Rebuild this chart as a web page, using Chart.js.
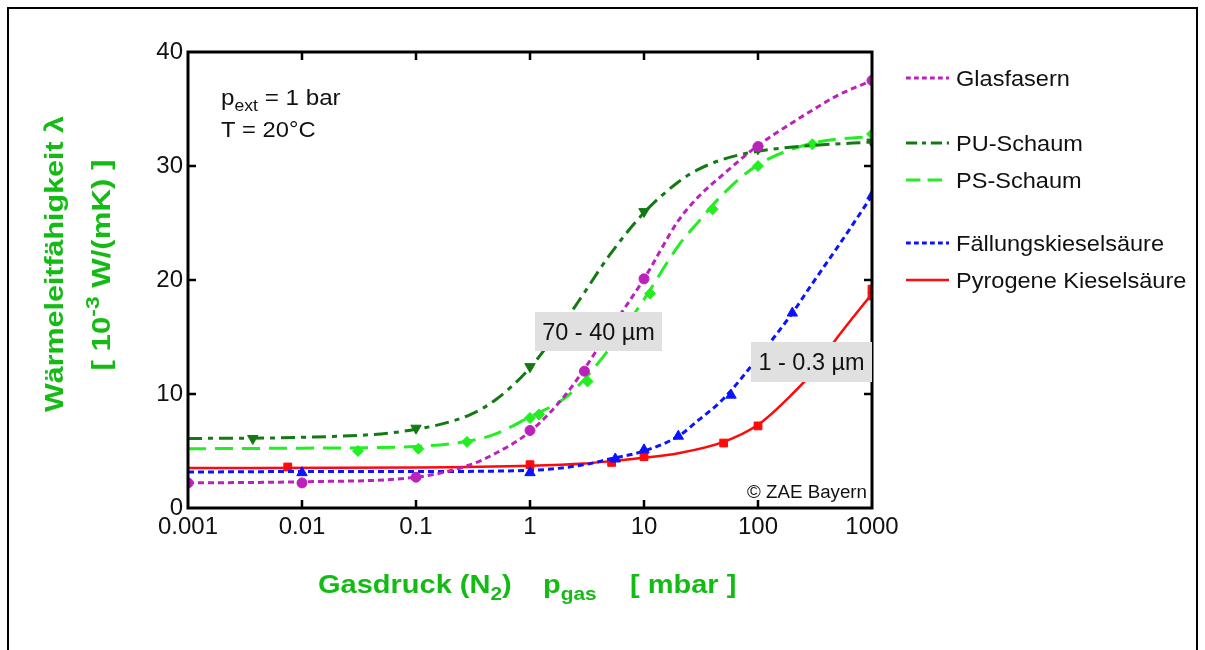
<!DOCTYPE html>
<html>
<head>
<meta charset="utf-8">
<script src="https://cdn.jsdelivr.net/npm/chart.js@4.4.1/dist/chart.umd.min.js"></script>
<style>
  html, body { margin: 0; padding: 0; background: #fff; }
  #wrap { position: relative; width: 1205px; height: 650px; overflow: hidden; }
  #frame { position: absolute; left: 7px; top: 7px; width: 1191px; height: 700px; border: 2px solid #000; box-sizing: border-box; }
  canvas { position: absolute; left: 0; top: 0; }
</style>
</head>
<body>
<div id="wrap">
  <div id="frame"></div>
  <canvas id="chart" width="1205" height="650"></canvas>
</div>
<script>
// axis ticks
const xTicks = [0.001, 0.01, 0.1, 1, 10, 100, 1000];
const xTickLabels = ['0.001', '0.01', '0.1', '1', '10', '100', '1000'];
const yTicks = [0, 10, 20, 30, 40];

// Glasfasern
const glasCurveP = [0.001, 0.01, 0.1, 0.3, 0.5, 1, 2, 3, 5, 10, 20, 30, 50, 100, 200, 300, 500, 1000];
const glasCurveL = [2.2, 2.3, 2.7, 3.8, 4.8, 6.7, 9.8, 12.2, 15.6, 20.1, 25.2, 27.3, 29.3, 31.8, 33.8, 34.9, 36.2, 37.5];
const glasMarkP = [0.001, 0.01, 0.1, 1, 3, 10, 100, 1000];
const glasMarkL = [2.2, 2.2, 2.7, 6.8, 12.0, 20.1, 31.7, 37.5];

// PU-Schaum
const puCurveP = [0.001, 0.01, 0.1, 0.3, 0.5, 1, 2, 3, 5, 10, 20, 30, 50, 100, 300, 1000];
const puCurveL = [6.1, 6.2, 6.9, 8.2, 9.5, 12.3, 16.3, 18.9, 22.2, 25.9, 28.6, 29.7, 30.6, 31.3, 31.8, 32.1];
const puMarkP = [0.0037, 0.1, 1, 10, 100, 1000];
const puMarkL = [6.1, 7.0, 12.4, 26.0, 31.5, 32.1];

// PS-Schaum
const psCurveP = [0.001, 0.01, 0.1, 0.3, 0.5, 1, 2, 3, 5, 10, 20, 30, 50, 100, 300, 1000];
const psCurveL = [5.2, 5.25, 5.4, 5.9, 6.5, 8.0, 9.6, 11.3, 14.0, 18.3, 23.0, 25.1, 27.6, 30.1, 32.0, 32.6];
const psMarkP = [0.031, 0.105, 0.28, 1, 1.2, 3.2, 11.3, 40, 100, 300, 1000];
const psMarkL = [5.0, 5.2, 5.8, 7.9, 8.2, 11.1, 18.8, 26.2, 30.0, 31.9, 32.8];

// Fällungskieselsäure
const faellCurveP = [0.001, 0.01, 0.1, 1, 3, 5, 10, 20, 30, 50, 100, 200, 300, 500, 1000];
const faellCurveL = [3.15, 3.2, 3.2, 3.3, 3.8, 4.3, 5.0, 6.3, 7.7, 9.6, 13.2, 17.1, 19.7, 22.9, 27.4];
const faellMarkP = [0.01, 1, 5.6, 10, 20, 58, 200, 1000];
const faellMarkL = [3.1, 3.1, 4.3, 5.1, 6.3, 9.9, 17.1, 27.4];

// Pyrogene Kieselsäure
const pyroCurveP = [0.001, 0.1, 1, 3, 5, 10, 20, 50, 100, 200, 300, 500, 1000];
const pyroCurveL = [3.5, 3.55, 3.7, 3.9, 4.1, 4.4, 4.8, 5.8, 7.3, 10.0, 11.9, 15.0, 18.8];
const pyroMarkP = [0.0075, 1, 5.2, 10, 50, 100, 1000, 1000];
const pyroMarkL = [3.6, 3.8, 4.0, 4.5, 5.7, 7.2, 18.6, 19.2];

const FONT = '"Liberation Sans", Arial, Helvetica, sans-serif';
const TITLE_GREEN = '#14bb14';

const series = [
  { label: 'Glasfasern', color: '#bb22bb', dash: [6, 4], width: 3, point: 'circle', rot: 0, r: 5,
    cp: glasCurveP, cl: glasCurveL, mp: glasMarkP, ml: glasMarkL, legendY: 78 },
  { label: 'PU-Schaum', color: '#137a13', dash: [14, 6, 5, 6], width: 3, point: 'triangle', rot: 180, r: 6,
    cp: puCurveP, cl: puCurveL, mp: puMarkP, ml: puMarkL, legendY: 143 },
  { label: 'PS-Schaum', color: '#22ee22', dash: [18, 9], width: 3, point: 'rectRot', rot: 0, r: 5.5,
    cp: psCurveP, cl: psCurveL, mp: psMarkP, ml: psMarkL, legendY: 180 },
  { label: 'Fällungskieselsäure', color: '#0a14ff', dash: [6, 4], width: 3, point: 'triangle', rot: 0, r: 6,
    cp: faellCurveP, cl: faellCurveL, mp: faellMarkP, ml: faellMarkL, legendY: 243 },
  { label: 'Pyrogene Kieselsäure', color: '#ff0a0a', dash: [], width: 2.5, point: 'rect', rot: 0, r: 5.5,
    cp: pyroCurveP, cl: pyroCurveL, mp: pyroMarkP, ml: pyroMarkL, legendY: 280 }
];

const toXY = (xs, ys) => xs.map((x, i) => ({ x: x, y: ys[i] }));

const datasets = [];
series.forEach(s => {
  datasets.push({
    label: s.label,
    data: toXY(s.cp, s.cl),
    borderColor: s.color,
    borderWidth: s.width,
    borderDash: s.dash,
    cubicInterpolationMode: 'monotone',
    pointRadius: 0,
    fill: false
  });
  datasets.push({
    label: s.label + ' Messwerte',
    data: toXY(s.mp, s.ml),
    showLine: false,
    pointStyle: s.point,
    pointRotation: s.rot,
    pointRadius: s.r,
    pointBackgroundColor: s.color,
    pointBorderColor: s.color,
    pointBorderWidth: 1
  });
});

// text with sub/superscript parts: [text, 0 normal | 1 sub | 2 sup]
function drawRich(ctx, parts, x, y, size, weight, color, align, hscale) {
  hscale = hscale || 1;
  ctx.save();
  ctx.translate(x, y);
  ctx.scale(hscale, 1);
  ctx.fillStyle = color;
  ctx.textBaseline = 'alphabetic';
  ctx.textAlign = 'left';
  const fonts = parts.map(p => weight + ' ' + (p[1] ? Math.round(size * 0.72) : size) + 'px ' + FONT);
  let w = 0;
  parts.forEach((p, i) => { ctx.font = fonts[i]; w += ctx.measureText(p[0]).width; });
  let cx = align === 'center' ? -w / 2 : (align === 'right' ? -w : 0);
  parts.forEach((p, i) => {
    ctx.font = fonts[i];
    const dy = p[1] === 1 ? size * 0.28 : (p[1] === 2 ? -size * 0.42 : 0);
    ctx.fillText(p[0], cx, dy);
    cx += ctx.measureText(p[0]).width;
  });
  ctx.restore();
}

function labelBox(ctx, text, x, y, w, h) {
  ctx.save();
  ctx.fillStyle = '#e0e0e0';
  ctx.fillRect(x, y, w, h);
  ctx.restore();
  drawRich(ctx, [[text, 0]], x + w / 2, y + h / 2 + 8, 23, 'normal', '#111', 'center', 1.02);
}

const decorPlugin = {
  id: 'decor',
  afterDatasetsDraw(chart) {
    const ctx = chart.ctx;
    const a = chart.chartArea;
    const xs = chart.scales.x, ys = chart.scales.y;

    // plot frame
    ctx.save();
    ctx.strokeStyle = '#000';
    ctx.lineWidth = 3;
    ctx.strokeRect(a.left, a.top, a.right - a.left, a.bottom - a.top);

    // inward ticks
    ctx.lineWidth = 2.5;
    ctx.beginPath();
    xTicks.slice(1, -1).forEach(v => {
      const px = Math.round(xs.getPixelForValue(v));
      ctx.moveTo(px, a.bottom); ctx.lineTo(px, a.bottom - 8);
      ctx.moveTo(px, a.top); ctx.lineTo(px, a.top + 8);
    });
    yTicks.slice(1, -1).forEach(v => {
      const py = Math.round(ys.getPixelForValue(v));
      ctx.moveTo(a.left, py); ctx.lineTo(a.left + 8, py);
      ctx.moveTo(a.right, py); ctx.lineTo(a.right - 8, py);
    });
    ctx.stroke();
    ctx.restore();

    // conditions
    drawRich(ctx, [['p', 0], ['ext', 1], [' = 1 bar', 0]], 221, 105, 22, 'normal', '#111', 'left', 1.1);
    drawRich(ctx, [['T = 20°C', 0]], 221, 137, 22, 'normal', '#111', 'left', 1.08);

    // size annotations
    labelBox(ctx, '70 - 40 µm', 535, 312, 127, 39);
    labelBox(ctx, '1 - 0.3 µm', 751, 342, 121, 40);

    // copyright
    drawRich(ctx, [['© ZAE Bayern', 0]], 867, 498, 18, 'normal', '#111', 'right', 1.04);

    // legend
    series.forEach(s => {
      ctx.save();
      ctx.strokeStyle = s.color;
      ctx.lineWidth = s.width;
      ctx.setLineDash(s.dash.length ? s.dash.map(d => d * 0.8) : []);
      ctx.beginPath();
      ctx.moveTo(906, s.legendY);
      ctx.lineTo(949, s.legendY);
      ctx.stroke();
      ctx.restore();
      drawRich(ctx, [[s.label, 0]], 956, s.legendY + 8, 22, 'normal', '#111', 'left', 1.07);
    });

    // x axis title
    drawRich(ctx, [['Gasdruck (N', 0], ['2', 1], [')', 0]], 318, 593, 25, 'bold', TITLE_GREEN, 'left', 1.16);
    drawRich(ctx, [['p', 0], ['gas', 1]], 543, 593, 25, 'bold', TITLE_GREEN, 'left', 1.16);
    drawRich(ctx, [['[ mbar ]', 0]], 630, 593, 25, 'bold', TITLE_GREEN, 'left', 1.16);

    // y axis title
    ctx.save();
    ctx.translate(63, 264);
    ctx.rotate(-Math.PI / 2);
    drawRich(ctx, [['Wärmeleitfähigkeit λ', 0]], 0, 0, 26, 'bold', TITLE_GREEN, 'center', 1.17);
    ctx.restore();
    ctx.save();
    ctx.translate(110, 265);
    ctx.rotate(-Math.PI / 2);
    drawRich(ctx, [['[ 10', 0], ['-3', 2], [' W/(mK) ]', 0]], 0, 0, 26, 'bold', TITLE_GREEN, 'center', 1.2);
    ctx.restore();
  }
};

new Chart(document.getElementById('chart'), {
  type: 'line',
  data: { datasets: datasets },
  options: {
    responsive: false,
    animation: false,
    layout: { padding: { top: 52, right: 333, left: 0, bottom: 0 } },
    plugins: {
      legend: { display: false },
      tooltip: { enabled: false }
    },
    scales: {
      x: {
        type: 'logarithmic',
        min: 0.001,
        max: 1000,
        afterBuildTicks: s => { s.ticks = xTicks.map(v => ({ value: v })); },
        afterFit: s => { s.height = 142; },
        grid: { display: false, drawTicks: false },
        border: { display: false },
        ticks: {
          callback: v => xTickLabels[xTicks.indexOf(v)],
          color: '#111',
          font: { family: FONT, size: 24 },
          padding: 5,
          maxRotation: 0,
          autoSkip: false
        }
      },
      y: {
        type: 'linear',
        min: 0,
        max: 40,
        afterBuildTicks: s => { s.ticks = yTicks.map(v => ({ value: v })); },
        afterFit: s => { s.width = 188; },
        grid: { display: false, drawTicks: false },
        border: { display: false },
        ticks: {
          color: '#111',
          font: { family: FONT, size: 24 },
          padding: 5
        }
      }
    }
  },
  plugins: [decorPlugin]
});
</script>
</body>
</html>
